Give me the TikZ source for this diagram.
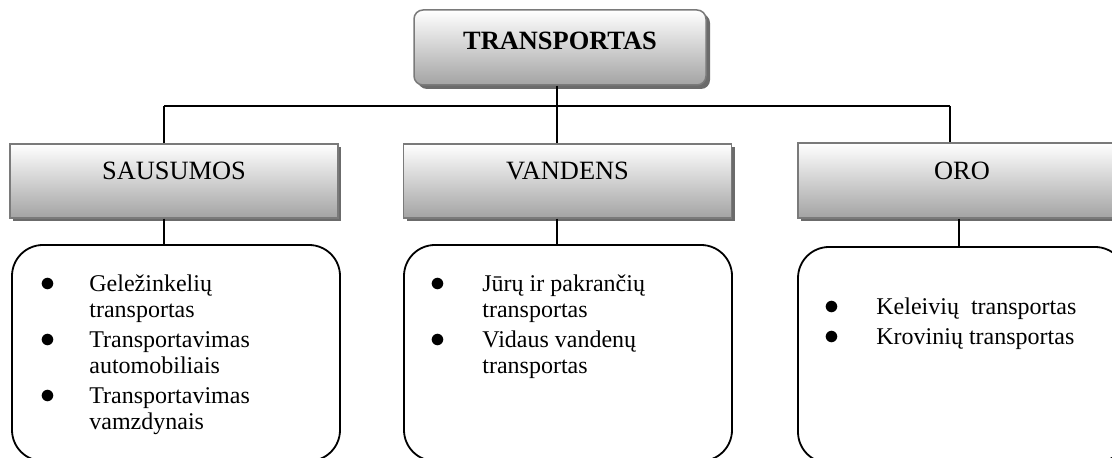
\documentclass[tikz,border=0pt]{standalone}
\usepackage{fontspec}
\setmainfont{Liberation Serif}
\usetikzlibrary{shadows}
\newcommand\bul{\scalebox{1.25}{$\bullet$}}
\tikzset{
  head/.style={rectangle, draw=black!52, line width=0.75pt, top color=white, bottom color=black!36,
    minimum width=164pt, minimum height=37pt, inner sep=0pt, text height=9pt, text depth=10pt,
    font=\fontsize{13.2}{14}\selectfont,
    general shadow={fill=black!58, shadow xshift=1.6pt, shadow yshift=-1.6pt}},
  tophead/.style={head, rounded corners=4.5pt, minimum width=146pt, minimum height=37.5pt,
    text height=11pt, text depth=8.5pt, font=\fontsize{13.2}{14}\selectfont\bfseries,
    general shadow={fill=black!58, shadow xshift=2pt, shadow yshift=-2pt}},
  listbox/.style={rectangle, draw=black, line width=0.9pt, rounded corners=15.5pt,
    minimum width=164pt, minimum height=108pt, inner sep=0pt},
  items/.style={anchor=base west, inner sep=0pt, font=\fontsize{12}{13}\selectfont},
  conn/.style={line width=0.9pt}
}
\begin{document}
\begin{tikzpicture}[x=0.5pt,y=-0.5pt]
\useasboundingbox (0,0) rectangle (1112,458);

% top
\node[tophead] (top) at (560,47.5) {TRANSPORTAS};

% headings
\node[head] (sau) at (174,181) {SAUSUMOS};
\node[head] (van) at (567.5,181) {VANDENS};
\node[head, minimum height=37.5pt] (oro) at (962,180.5) {ORO};

% list boxes
\node[listbox] (sl) at (176,353) {};
\node[listbox] (vl) at (568,353) {};
\node[listbox] (ol) at (962,355) {};

% connectors
\coordinate (jL) at (164,106);
\coordinate (jM) at (557,106);
\coordinate (jR) at (950,106);
\coordinate (oB) at (959,0);
\draw[conn] (jL) -- (jR);
\draw[conn] (top.south -| jM) -- (jM);
\draw[conn] (jL) -- (jL |- sau.north);
\draw[conn] (jM) -- (jM |- van.north);
\draw[conn] (jR) -- (jR |- oro.north);
\draw[conn] (sau.south -| jL) -- (jL |- sl.north);
\draw[conn] (van.south -| jM) -- (jM |- vl.north);
\draw[conn] (oro.south -| oB) -- (oB |- ol.north);

% item texts
\node[items] (si) at (7,292) {\begin{tabular}[t]{@{}l@{}l@{}}
\makebox[41pt]{\bul} & Geležinkelių\\
 & transportas\\[2pt]
\makebox[41pt]{\bul} & Transportavimas\\
 & automobiliais\\[2pt]
\makebox[41pt]{\bul} & Transportavimas\\
 & vamzdynais
\end{tabular}};

\node[items] (vi) at (394,292) {\begin{tabular}[t]{@{}l@{}l@{}}
\makebox[44pt]{\bul} & Jūrų ir pakrančių\\
 & transportas\\[2pt]
\makebox[44pt]{\bul} & Vidaus vandenų\\
 & transportas
\end{tabular}};

\node[items] (oi) at (788,315) {\begin{tabular}[t]{@{}l@{}l@{}}
\makebox[44pt]{\bul} & Keleivių\ \ transportas\\[2pt]
\makebox[44pt]{\bul} & Krovinių transportas
\end{tabular}};
\end{tikzpicture}
\end{document}
